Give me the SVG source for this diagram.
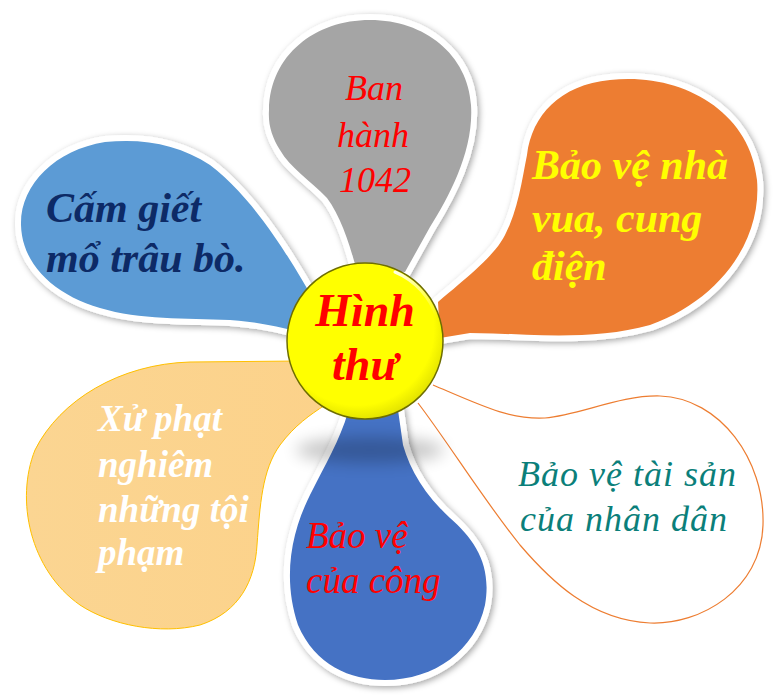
<svg xmlns="http://www.w3.org/2000/svg" width="777" height="696" viewBox="0 0 777 696">
<defs>
<filter id="sh" x="-20%" y="-20%" width="140%" height="140%">
<feDropShadow dx="2" dy="2" stdDeviation="3" flood-color="#000" flood-opacity="0.35"/>
</filter>
<filter id="blur" x="-50%" y="-100%" width="200%" height="300%">
<feGaussianBlur stdDeviation="8"/>
</filter>
<linearGradient id="lo" x1="0" y1="0" x2="1" y2="0">
<stop offset="0" stop-color="#fbd592"/>
<stop offset="1" stop-color="#fcd28a"/>
</linearGradient>
<radialGradient id="yel" cx="0.45" cy="0.42" r="0.6">
<stop offset="0" stop-color="#ffff00"/>
<stop offset="0.82" stop-color="#ffff00"/>
<stop offset="1" stop-color="#e0e000"/>
</radialGradient>
<linearGradient id="hl" x1="0" y1="0" x2="1" y2="1">
<stop offset="0" stop-color="#fff" stop-opacity="0.9"/>
<stop offset="1" stop-color="#fff" stop-opacity="0"/>
</linearGradient>
</defs>
<style>
.petal{stroke:#fff;stroke-width:12;paint-order:stroke;stroke-linejoin:round;filter:url(#sh)}
.t{font-family:"Liberation Serif","Times New Roman",serif;font-style:italic}
.b{font-weight:bold}
</style>
<rect width="777" height="696" fill="#fff"/>

<g id="petal-cam-giet">
<path class="petal" fill="#5b9bd5" d="M308,290 C285,250 250,195 210,165 C180,145 145,138 105,142 C55,150 20,185 21,225 C22,265 55,295 100,308 C140,320 185,318 230,320 C260,322 285,328 305,334 Z"/>
<text class="t b" fill="#0d2a66" font-size="42"><tspan x="46" y="222">Cấm giết</tspan><tspan x="46" y="272">mổ trâu bò.</tspan></text>
</g>

<g id="petal-ban-hanh">
<path class="petal" fill="#a5a5a5" d="M356,268 C350,245 340,215 327,198 C310,180 290,168 280,150 C272,137 268,125 269,110 C270,55 315,20 370,20 C425,20 468,55 471,105 C474,150 450,195 430,227 L405,272 Z"/>
<text class="t" fill="#ff0000" font-size="36" text-anchor="middle"><tspan x="374" y="100">Ban</tspan><tspan x="373" y="147">hành</tspan><tspan x="375" y="192">1042</tspan></text>
</g>

<g id="petal-bao-ve-nha-vua">
<path class="petal" fill="#ed7d31" d="M438,302 C470,275 495,255 505,235 C518,210 522,180 527,155 C532,115 560,85 610,80 C680,72 750,110 757,180 C762,240 720,300 650,325 C590,342 520,333 470,333 L440,338 Z"/>
<text class="t b" fill="#ffff00" font-size="42"><tspan x="532" y="179">Bảo vệ nhà</tspan><tspan x="532" y="232">vua, cung</tspan><tspan x="532" y="280">điện</tspan></text>
</g>

<g id="petal-xu-phat">
<path fill="url(#lo)" stroke="#ffc000" stroke-width="1" d="M300,361 L190,362 C120,364 60,400 35,450 C15,500 30,570 80,605 C110,625 160,635 200,625 C240,612 255,580 257,545 C260,505 262,470 280,445 C295,425 310,415 325,405 Z"/>
<text class="t b" fill="#ffffff" font-size="37"><tspan x="98" y="431">Xử phạt</tspan><tspan x="98" y="477">nghiêm</tspan><tspan x="98" y="522">những tội</tspan><tspan x="98" y="565">phạm</tspan></text>
</g>

<g id="petal-bao-ve-tai-san">
<path fill="#fff" stroke="#ed7d31" stroke-width="1.2" d="M433,385 C480,405 510,420 545,418 C580,415 620,395 660,396 C720,398 765,460 763,525 C761,590 700,625 650,623 C590,620 550,580 520,545 C480,495 450,445 418,403"/>
<text class="t" fill="#0b7f7a" font-size="36" letter-spacing="1"><tspan x="518" y="486">Bảo vệ tài sản</tspan><tspan x="520" y="531">của nhân dân</tspan></text>
</g>

<g id="petal-bao-ve-cua-cong">
<path class="petal" fill="#4472c4" d="M348,412 C340,440 325,465 310,495 C290,535 283,580 298,625 C315,665 350,680 385,680 C435,680 475,650 485,605 C492,565 475,540 450,518 C425,495 410,470 403,445 L398,410 Z"/>
<text class="t" fill="#ff0000" font-size="37"><tspan x="306" y="548">Bảo vệ</tspan><tspan x="306" y="593">của công</tspan></text>
</g>

<g id="center-hinh-thu">
<ellipse cx="370" cy="450" rx="74" ry="13" fill="#000" opacity="0.22" filter="url(#blur)"/>
<circle cx="365" cy="341" r="78" fill="url(#yel)" stroke="#6e6e00" stroke-width="1.5"/>
<path d="M395,272 A74,74 0 0 1 437,318" fill="none" stroke="url(#hl)" stroke-width="3" stroke-linecap="round"/>
<text class="t b" fill="#ff0000" font-size="46" text-anchor="middle"><tspan x="365" y="326">Hình</tspan><tspan x="365" y="380">thư</tspan></text>
</g>
</svg>
